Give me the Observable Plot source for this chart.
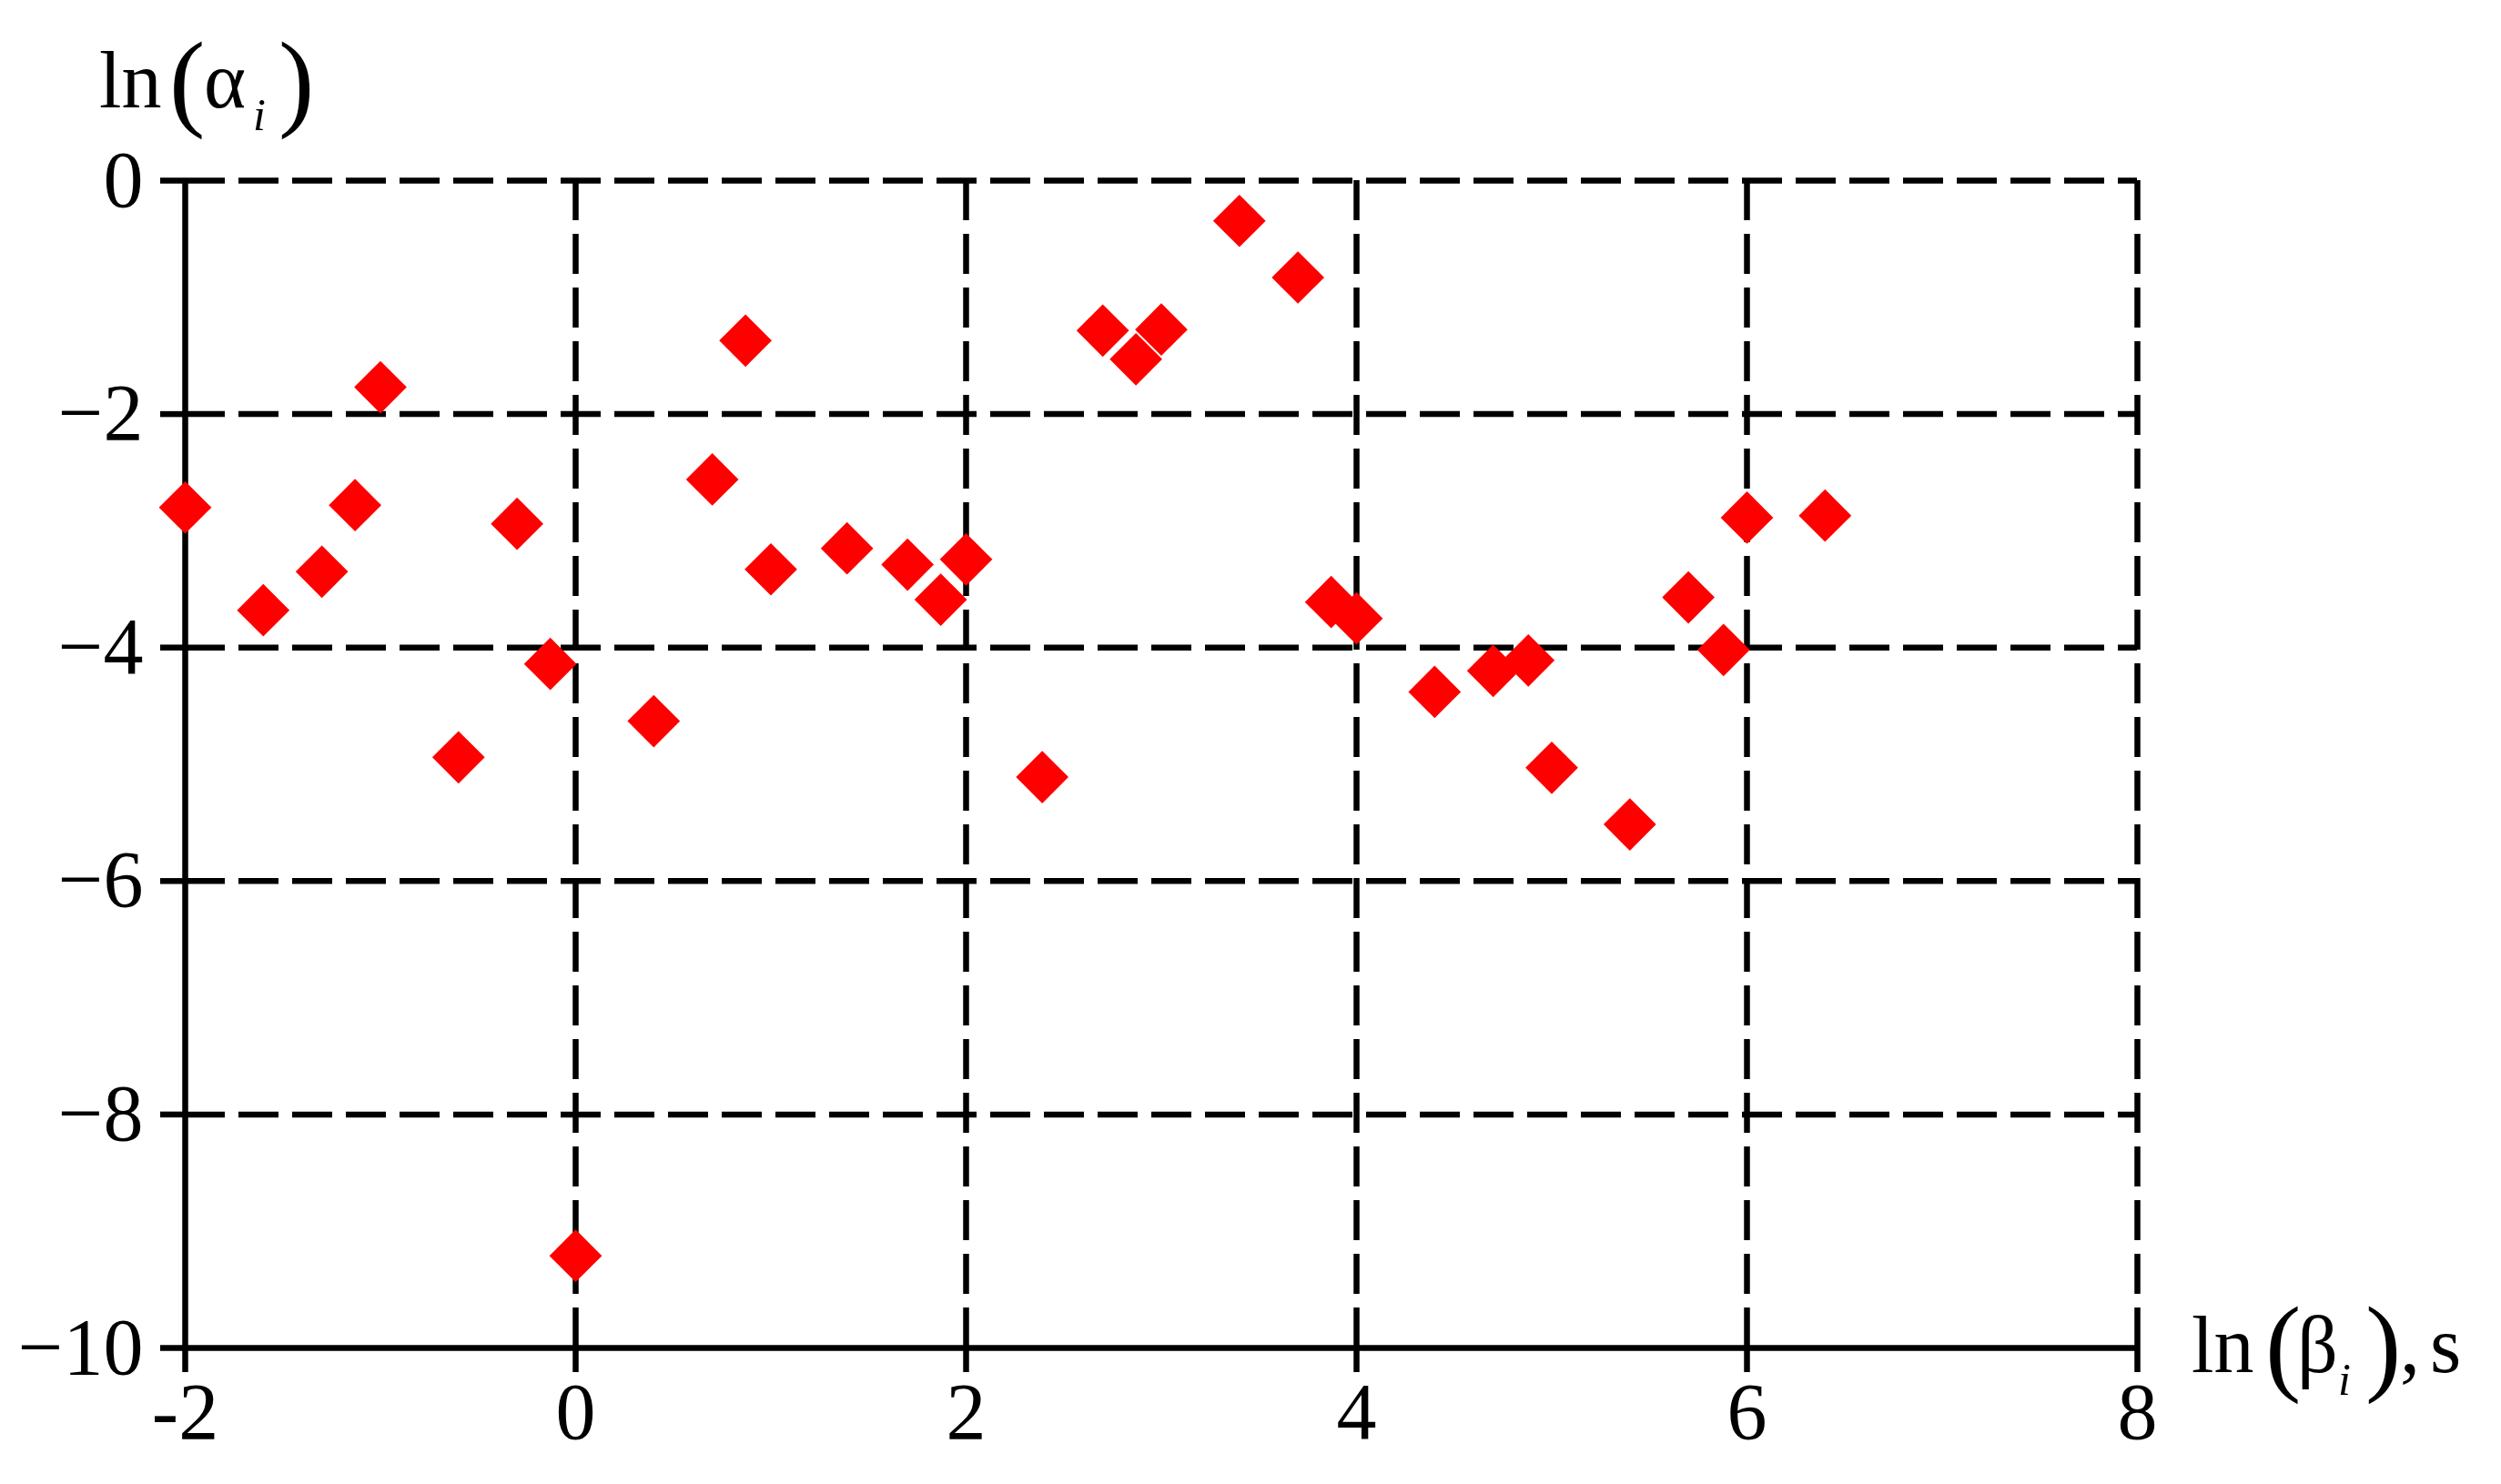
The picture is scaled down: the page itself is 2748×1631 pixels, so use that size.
<!DOCTYPE html>
<html><head><meta charset="utf-8">
<script src="https://cdn.jsdelivr.net/npm/d3@7"></script>
<script src="https://cdn.jsdelivr.net/npm/@observablehq/plot@0.6"></script>
<style>html,body{margin:0;padding:0;background:#fff;} svg{display:block}</style>
</head><body><div id="chart"></div>
<script>
// ln(beta_i), s  (x values)
const lnBeta = [-2.0, -1.60, -1.30, -1.13, -1.0, -0.60, -0.30, -0.13, 0.0, 0.40, 0.70, 0.87, 1.0, 1.39, 1.70, 1.87, 2.0, 2.39, 2.70, 2.87, 3.0, 3.40, 3.70, 3.87, 4.0, 4.40, 4.70, 4.88, 5.0, 5.40, 5.70, 5.88, 6.0, 6.40];
// ln(alpha_i)  (y values)
const lnAlpha = [-2.80, -3.68, -3.35, -2.78, -1.77, -4.94, -2.94, -4.14, -9.21, -4.63, -2.56, -1.37, -3.33, -3.15, -3.29, -3.59, -3.245, -5.11, -1.285, -1.53, -1.276, -0.345, -0.83, -3.61, -3.75, -4.38, -4.20, -4.11, -5.03, -5.515, -3.57, -4.02, -2.887, -2.87];

const xTicks = [-2, 0, 2, 4, 6, 8];
const xTickLabels = ["-2", "0", "2", "4", "6", "8"];
const yTicks = [0, -2, -4, -6, -8, -10];
const yTickLabels = ["0", "\u22122", "\u22124", "\u22126", "\u22128", "\u221210"];

const data = lnBeta.map((x, i) => ({x, y: lnAlpha[i]}));

const W = 2748, H = 1631;
const font = "'Liberation Serif', 'Times New Roman', serif";
const gridStyle = {stroke: "#000", strokeOpacity: 1, strokeWidth: 6.5, strokeDasharray: "44,15"};

const chart = Plot.plot({
  width: W, height: H,
  marginLeft: 203, marginRight: 400, marginTop: 198, marginBottom: 150,
  style: {fontFamily: font, fontSize: "88px", color: "#000", background: "#fff"},
  x: {domain: [-2, 8]},
  y: {domain: [-10, 0]},
  marks: [
    Plot.gridX(xTicks.filter(d => d !== -2), gridStyle),
    Plot.gridY(yTicks.filter(d => d !== -10), gridStyle),
    Plot.ruleX([-2], {stroke: "#000", strokeWidth: 6.5}),
    Plot.ruleY([-10], {stroke: "#000", strokeWidth: 6.5}),
    Plot.axisX(xTicks, {tickSize: 27, tickPadding: 10, strokeWidth: 6.5, stroke: "#000",
      tickFormat: d => xTickLabels[xTicks.indexOf(d)], label: null}),
    Plot.axisY(yTicks, {tickSize: 27, tickPadding: 19, strokeWidth: 6.5, stroke: "#000",
      tickFormat: d => yTickLabels[yTicks.indexOf(d)], label: null}),
    Plot.dot(data, {x: "x", y: "y", symbol: "diamond2", r: 26, fill: "#ff0000", stroke: "none"})
  ]
});

document.getElementById("chart").appendChild(chart);

// Axis titles (rich text with subscripts), each one text element with tspans
const svg = d3.select(chart);
function addTitle(parts) {
  const t = svg.append("text")
    .attr("font-family", font)
    .attr("text-anchor", "start")
    .attr("fill", "#000");
  for (const p of parts) {
    t.append("tspan").attr("x", p.x).attr("y", p.y)
      .attr("font-size", p.size)
      .attr("font-style", p.italic ? "italic" : "normal")
      .text(p.s);
  }
}
// y title: ln(α_i)
addTitle([
  {s: "ln", x: 109, y: 118, size: 88},
  {s: "(", x: 186, y: 128, size: 118},
  {s: "\u03B1", x: 224, y: 118, size: 88},
  {s: "i", x: 278, y: 143, size: 50, italic: true},
  {s: ")", x: 306, y: 128, size: 118}
]);
// x title: ln(β_i), s
addTitle([
  {s: "ln", x: 2408, y: 1508, size: 88},
  {s: "(", x: 2489, y: 1518, size: 118},
  {s: "\u03B2", x: 2524, y: 1508, size: 88},
  {s: "i", x: 2569, y: 1533, size: 50, italic: true},
  {s: ")", x: 2599, y: 1518, size: 118},
  {s: ",", x: 2637, y: 1508, size: 88},
  {s: "s", x: 2670, y: 1508, size: 88}
]);
</script>
</body></html>
